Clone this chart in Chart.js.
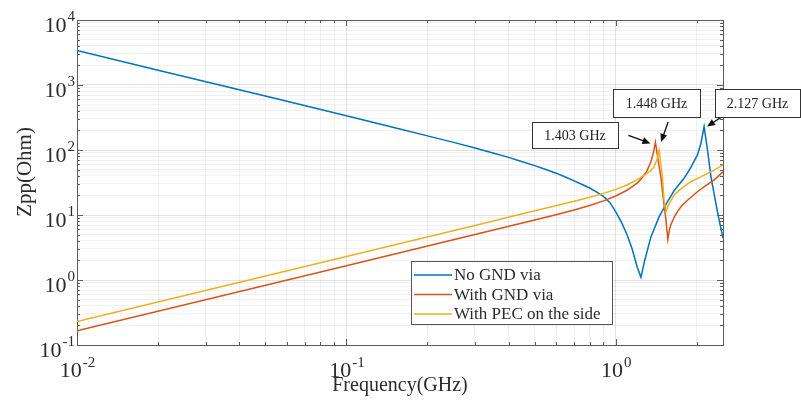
<!DOCTYPE html>
<html>
<head>
<meta charset="utf-8">
<script src="https://cdn.jsdelivr.net/npm/chart.js@4.4.1/dist/chart.umd.min.js"></script>
<style>
  html, body { margin: 0; padding: 0; background: #fff; }
  #wrap { width: 801px; height: 407px; }
</style>
</head>
<body>
<div id="wrap"><canvas id="zppChart" width="801" height="407"></canvas></div>
<script>
/* Zpp vs frequency (GHz, Ohm) for the three via setups */
const freqNoVia = [0.01, 0.02, 0.05, 0.1, 0.15, 0.2, 0.25, 0.3, 0.35, 0.4, 0.45, 0.5, 0.55, 0.6, 0.65, 0.7, 0.75, 0.8, 0.85, 0.9, 0.95, 1.0, 1.05, 1.1, 1.15, 1.2, 1.24, 1.28, 1.35, 1.45, 1.556, 1.65, 1.795, 1.9, 2.01, 2.07, 2.127, 2.19, 2.255, 2.29, 2.39, 2.5];
const zppNoVia  = [3390, 1690, 675, 336, 222, 165, 131, 107, 90, 77, 66, 57.5, 50, 44, 38.5, 33.5, 29.5, 26, 22.5, 19.3, 15.6, 11.2, 7.7, 5.0, 3.0, 1.6, 1.1, 2.0, 4.6, 9.5, 16, 24, 37, 54, 84, 126, 229, 100, 39, 27.6, 10.6, 4.4];

const freqGndVia = [0.01, 0.1, 0.3, 0.5, 0.6, 0.7, 0.8, 0.9, 1.0, 1.1, 1.2, 1.25, 1.3, 1.35, 1.38, 1.403, 1.44, 1.47, 1.5, 1.535, 1.56, 1.58, 1.6, 1.65, 1.7, 1.745, 1.85, 2.01, 2.15, 2.32, 2.5];
const zppGndVia  = [0.166, 1.66, 5.0, 8.4, 10.1, 11.9, 14, 16.5, 19.6, 24, 31, 37, 46, 66, 92, 131, 65, 39, 18, 8.4, 4.2, 5.8, 7.0, 9.4, 11.6, 13.4, 17, 22.8, 28, 34.7, 46];

const freqPec = [0.01, 0.1, 0.3, 0.5, 0.6, 0.7, 0.8, 0.9, 1.0, 1.1, 1.2, 1.3, 1.35, 1.387, 1.42, 1.448, 1.47, 1.49, 1.51, 1.535, 1.56, 1.6, 1.647, 1.75, 1.9, 2.1, 2.32, 2.5];
const zppPec  = [0.23, 2.3, 6.9, 11.6, 13.9, 16.3, 18.8, 21.5, 24.8, 29, 35, 43, 48.5, 55, 70, 100, 60, 39, 17, 11.2, 13.5, 16.5, 20.3, 25.5, 32.5, 40, 49, 59];

const seriesNames = ['No GND via', 'With GND via', 'With PEC on the side'];
const seriesColors = ['#0072BD', '#D95319', '#EDB120'];

/* axis decades and their exponent labels */
const xDecades = [0.01, 0.1, 1];
const xTickExp = ['-2', '-1', '0'];
const yDecades = [0.1, 1, 10, 100, 1000, 10000];
const yTickExp = ['-1', '0', '1', '2', '3', '4'];
const xMin = 0.01, xMax = 2.5;

const serif = '"Liberation Serif", "Times New Roman", serif';
const textColor = '#2b2b2b';

function toPoints(xs, ys) {
    return xs.map((f, i) => ({ x: f, y: ys[i] }));
}

function isDecade(v) {
    const l = Math.log10(v);
    return Math.abs(l - Math.round(l)) < 1e-6;
}

// grid positions 1..9 per decade
function gridValues(decades, maxVal) {
    const out = [];
    decades.forEach(d => {
        for (let m = 1; m <= 9; m++) {
            const v = +(d * m).toPrecision(6);
            if (v <= maxVal * 1.0001) out.push(v);
        }
    });
    return out;
}

// "10" with a raised exponent
function drawPower(ctx, exp, x, baseY, align) {
    ctx.font = '22px ' + serif;
    const wBase = ctx.measureText('10').width;
    ctx.font = '15px ' + serif;
    const wExp = ctx.measureText(exp).width;
    const total = wBase + wExp;
    let left = x;
    if (align === 'right') left = x - total;
    if (align === 'center') left = x - total / 2;
    ctx.textAlign = 'left';
    ctx.textBaseline = 'alphabetic';
    ctx.font = '22px ' + serif;
    ctx.fillText('10', left, baseY);
    ctx.font = '15px ' + serif;
    ctx.fillText(exp, left + wBase + 1, baseY - 10.5);
}

function drawArrow(ctx, x0, y0, x1, y1) {
    const ang = Math.atan2(y1 - y0, x1 - x0);
    const len = 8, half = 3.5;
    ctx.beginPath();
    ctx.moveTo(x0, y0);
    ctx.lineTo(x1 - Math.cos(ang) * len * 0.8, y1 - Math.sin(ang) * len * 0.8);
    ctx.stroke();
    ctx.beginPath();
    ctx.moveTo(x1, y1);
    ctx.lineTo(x1 - Math.cos(ang) * len - Math.sin(ang) * half, y1 - Math.sin(ang) * len + Math.cos(ang) * half);
    ctx.lineTo(x1 - Math.cos(ang) * len + Math.sin(ang) * half, y1 - Math.sin(ang) * len - Math.cos(ang) * half);
    ctx.closePath();
    ctx.fill();
}

function labelBox(ctx, text, left, top, w, h) {
    ctx.fillStyle = '#fff';
    ctx.fillRect(left, top, w, h);
    ctx.strokeStyle = '#333';
    ctx.lineWidth = 1;
    ctx.strokeRect(left + 0.5, top + 0.5, w, h);
    ctx.fillStyle = '#222';
    ctx.font = '14px ' + serif;
    ctx.textAlign = 'center';
    ctx.textBaseline = 'middle';
    ctx.fillText(text, left + w / 2, top + h / 2 + 1);
}

// resonance peak above 1 GHz in a dataset
function peakOf(xs, ys) {
    let best = -1;
    xs.forEach((f, i) => {
        if (f > 1 && (best < 0 || ys[i] > ys[best])) best = i;
    });
    return { f: xs[best], z: ys[best] };
}

const axesDecor = {
    id: 'axesDecor',
    beforeDatasetsDraw(chart) {
        const { ctx, chartArea: a, scales: { x, y } } = chart;
        ctx.save();
        ctx.strokeStyle = '#5c5c5c';
        ctx.lineWidth = 1;
        ctx.beginPath();
        x.ticks.forEach(t => {
            const px = Math.round(x.getPixelForValue(t.value)) + 0.5;
            const len = isDecade(t.value) ? 6 : 3;
            ctx.moveTo(px, a.bottom); ctx.lineTo(px, a.bottom - len);
            ctx.moveTo(px, a.top); ctx.lineTo(px, a.top + len);
        });
        y.ticks.forEach(t => {
            const py = Math.round(y.getPixelForValue(t.value)) + 0.5;
            const len = isDecade(t.value) ? 6 : 3;
            ctx.moveTo(a.left, py); ctx.lineTo(a.left + len, py);
            ctx.moveTo(a.right, py); ctx.lineTo(a.right - len, py);
        });
        ctx.stroke();
        ctx.strokeRect(Math.round(a.left) + 0.5, Math.round(a.top) + 0.5, Math.round(a.right - a.left), Math.round(a.bottom - a.top));
        ctx.restore();
    },
    afterDatasetsDraw(chart) {
        const { ctx, chartArea: a, scales: { x, y } } = chart;
        ctx.save();
        ctx.fillStyle = textColor;

        // tick labels
        yDecades.forEach((v, i) => {
            drawPower(ctx, yTickExp[i], a.left - 3, y.getPixelForValue(v) + 11.5, 'right');
        });
        xDecades.forEach((v, i) => {
            drawPower(ctx, xTickExp[i], x.getPixelForValue(v), a.bottom + 32, 'center');
        });

        // axis titles
        ctx.font = '20px ' + serif;
        ctx.textAlign = 'center';
        ctx.textBaseline = 'alphabetic';
        ctx.fillText('Frequency(GHz)', (a.left + a.right) / 2, a.bottom + 46);
        ctx.save();
        ctx.translate(31, 172);
        ctx.rotate(-Math.PI / 2);
        ctx.font = '21px ' + serif;
        ctx.fillText('Zpp(Ohm)', 0, 0);
        ctx.restore();

        // legend
        const lg = { left: 411, top: 261, w: 201, h: 63 };
        ctx.fillStyle = '#fff';
        ctx.fillRect(lg.left, lg.top, lg.w, lg.h);
        ctx.strokeStyle = '#555';
        ctx.lineWidth = 1;
        ctx.strokeRect(lg.left + 0.5, lg.top + 0.5, lg.w, lg.h);
        ctx.font = '17px ' + serif;
        ctx.textAlign = 'left';
        ctx.textBaseline = 'middle';
        chart.data.datasets.forEach((ds, i) => {
            const ry = lg.top + 14 + i * 19.5;
            ctx.strokeStyle = ds.borderColor;
            ctx.lineWidth = 1.5;
            ctx.beginPath();
            ctx.moveTo(lg.left + 3, ry);
            ctx.lineTo(lg.left + 41, ry);
            ctx.stroke();
            ctx.fillStyle = textColor;
            ctx.fillText(ds.label, lg.left + 43, ry + 1);
        });

        // resonance callouts
        const pGnd = peakOf(freqGndVia, zppGndVia);
        const pPec = peakOf(freqPec, zppPec);
        const pNo = peakOf(freqNoVia, zppNoVia);
        const px = p => ({ x: x.getPixelForValue(p.f), y: y.getPixelForValue(p.z) });
        const g = px(pGnd), e = px(pPec), n = px(pNo);

        ctx.strokeStyle = '#111';
        ctx.fillStyle = '#111';
        ctx.lineWidth = 1.3;
        drawArrow(ctx, g.x - 27, g.y - 7, g.x - 5, g.y + 1);
        drawArrow(ctx, e.x + 9, e.y - 28, e.x + 2, e.y - 8);
        drawArrow(ctx, n.x + 18, n.y - 10, n.x + 3, n.y);

        labelBox(ctx, pGnd.f.toFixed(3) + ' GHz', 532, 122, 86, 26);
        labelBox(ctx, pPec.f.toFixed(3) + ' GHz', 613, 89, 87, 28);
        labelBox(ctx, pNo.f.toFixed(3) + ' GHz', 715, 89, 85, 28);
        ctx.restore();
    }
};

const gridColor = c => isDecade(c.tick.value) ? 'rgba(0,0,0,0.11)' : 'rgba(0,0,0,0.055)';

new Chart(document.getElementById('zppChart'), {
    type: 'line',
    data: {
        datasets: [
            { label: seriesNames[0], data: toPoints(freqNoVia, zppNoVia), borderColor: seriesColors[0], order: 3 },
            { label: seriesNames[1], data: toPoints(freqGndVia, zppGndVia), borderColor: seriesColors[1], order: 2 },
            { label: seriesNames[2], data: toPoints(freqPec, zppPec), borderColor: seriesColors[2], order: 1 }
        ]
    },
    options: {
        responsive: false,
        animation: false,
        devicePixelRatio: 1,
        layout: { padding: { left: 77, top: 20, right: 78, bottom: 62 } },
        elements: {
            line: { borderWidth: 1.5, tension: 0, fill: false },
            point: { radius: 0, hoverRadius: 0 }
        },
        plugins: {
            legend: { display: false },
            tooltip: { enabled: false }
        },
        scales: {
            x: {
                type: 'logarithmic',
                min: xMin,
                max: xMax,
                afterBuildTicks: s => { s.ticks = gridValues(xDecades, xMax).map(v => ({ value: v })); },
                ticks: { display: false },
                grid: { color: gridColor, drawTicks: false, lineWidth: 1 },
                border: { display: false }
            },
            y: {
                type: 'logarithmic',
                min: 0.1,
                max: 10000,
                afterBuildTicks: s => { s.ticks = gridValues(yDecades, 10000).map(v => ({ value: v })); },
                ticks: { display: false },
                grid: { color: gridColor, drawTicks: false, lineWidth: 1 },
                border: { display: false }
            }
        }
    },
    plugins: [axesDecor]
});
</script>
</body>
</html>
